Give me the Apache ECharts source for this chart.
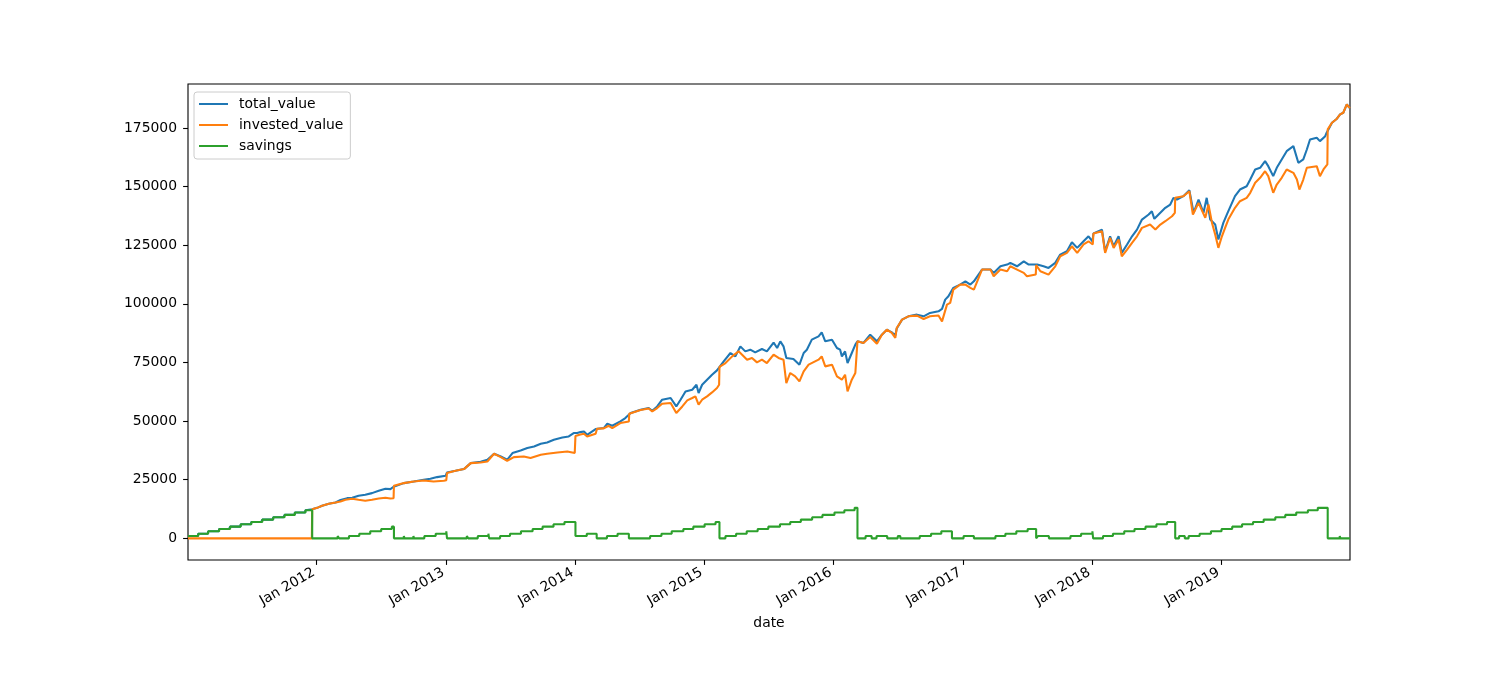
<!DOCTYPE html>
<html>
<head>
<meta charset="utf-8">
<script src="https://cdn.jsdelivr.net/npm/echarts@6/dist/echarts.min.js"></script>
<style>
html,body{margin:0;padding:0;background:#ffffff;}
#chart{width:1500px;height:700px;}
</style>
</head>
<body>
<div id="chart"></div>
<script>
// ---------------- data ----------------
const seriesNames = ['total_value', 'invested_value', 'savings'];
const xAxisName = 'date';

const totalDates = [
'2011-01-03','2011-01-31','2011-02-01','2011-02-28','2011-03-01','2011-03-31','2011-04-01','2011-04-29',
'2011-05-02','2011-05-31','2011-06-01','2011-06-30','2011-07-01','2011-07-29','2011-08-01','2011-08-31',
'2011-09-01','2011-09-30','2011-10-03','2011-10-31','2011-11-01','2011-11-30','2011-12-01','2011-12-20',
'2012-01-03','2012-01-17','2012-02-05','2012-02-24','2012-02-28','2012-03-09','2012-03-28','2012-04-11',
'2012-04-29','2012-05-18','2012-06-06','2012-06-25','2012-07-14','2012-07-28','2012-08-06','2012-09-04',
'2012-10-02','2012-10-30','2012-11-18','2012-12-07','2012-12-31','2013-01-04','2013-01-28','2013-02-21',
'2013-03-12','2013-04-09','2013-04-28','2013-05-17','2013-06-05','2013-06-23','2013-07-08','2013-07-31',
'2013-08-19','2013-09-07','2013-09-26','2013-10-14','2013-11-02','2013-11-26','2013-12-14','2013-12-28',
'2014-01-07','2014-01-16','2014-01-26','2014-02-04','2014-02-28','2014-03-23','2014-04-02','2014-04-16',
'2014-05-09','2014-05-23','2014-06-07','2014-07-05','2014-07-28','2014-08-07','2014-08-21','2014-09-04',
'2014-09-28','2014-10-14','2014-10-26','2014-11-09','2014-11-28','2014-12-10','2014-12-16','2014-12-26',
'2015-01-09','2015-01-23','2015-02-06','2015-02-25','2015-03-16','2015-03-30','2015-04-13','2015-04-27',
'2015-05-11','2015-05-25','2015-06-13','2015-06-27','2015-07-16','2015-07-26','2015-08-04','2015-08-13',
'2015-08-21','2015-09-10','2015-09-27','2015-10-09','2015-10-18','2015-11-01','2015-11-20','2015-11-29',
'2015-12-09','2015-12-28','2016-01-11','2016-01-20','2016-01-25','2016-02-03','2016-02-10','2016-02-22',
'2016-03-03','2016-03-09','2016-03-26','2016-04-14','2016-05-03','2016-05-17','2016-05-31','2016-06-14',
'2016-06-24','2016-06-28','2016-07-13','2016-07-31','2016-08-24','2016-09-12','2016-09-30','2016-10-24',
'2016-11-03','2016-11-12','2016-11-21','2016-12-05','2016-12-24','2017-01-08','2017-01-22','2017-02-01',
'2017-02-24','2017-03-20','2017-03-29','2017-04-17','2017-05-06','2017-05-15','2017-06-03','2017-06-22',
'2017-07-06','2017-07-30','2017-08-17','2017-08-31','2017-09-19','2017-10-03','2017-10-22','2017-11-05',
'2017-11-20','2017-12-08','2017-12-22','2018-01-02','2018-01-05','2018-01-29','2018-02-07','2018-02-21',
'2018-03-03','2018-03-17','2018-03-26','2018-04-10','2018-04-24','2018-05-08','2018-05-22','2018-06-10',
'2018-06-19','2018-06-26','2018-07-08','2018-07-27','2018-08-10','2018-08-19','2018-08-29','2018-09-16',
'2018-10-03','2018-10-15','2018-10-29','2018-11-12','2018-11-21','2018-12-01','2018-12-15','2018-12-24',
'2019-01-07','2019-01-19','2019-02-09','2019-02-23','2019-03-14','2019-03-24','2019-04-07','2019-04-21',
'2019-05-05','2019-05-14','2019-05-28','2019-06-07','2019-06-21','2019-07-05','2019-07-24','2019-08-07',
'2019-08-21','2019-08-31','2019-09-09','2019-09-28','2019-10-07','2019-10-22','2019-10-26','2019-10-31',
'2019-11-10','2019-11-24','2019-12-03','2019-12-12','2019-12-22','2019-12-29','2019-12-31'
];
const totalValues = [
1000,1000,2000,2000,3000,3000,4000,4000,
5000,5000,6000,6000,7000,7000,8000,8000,
9000,9000,10000,10000,11000,11000,12000,12400,
13000,13900,14800,15300,16000,16400,17150,17300,
18140,18570,19290,20270,21130,21000,22000,23560,
24240,24970,25400,26120,26680,28090,28800,29530,
32090,32650,33500,36060,34900,33500,36360,37470,
38500,39180,40330,40900,42040,43020,43450,44900,
44900,45300,45590,44170,46600,47030,48870,48010,
49860,51300,53430,54840,55570,54420,56250,59110,
59830,56250,59110,62650,63380,65510,61970,65500,
67650,69780,71620,75460,79040,77590,81860,79730,
80450,79300,80750,79730,83500,81180,84000,81860,
76910,76480,74050,79040,80450,84720,86130,87840,
84000,84720,81180,80450,77590,79730,74760,79040,
82580,84000,83310,86850,84000,86850,88990,87840,
86500,89500,93250,94670,95390,94670,96110,96800,
97820,101800,103200,106800,108200,109600,108200,109600,
114600,114600,113190,116000,116730,117450,116000,118130,
116730,116730,116000,115300,117450,121000,122400,126250,
123860,126670,128800,126670,130000,131650,122400,128800,
124540,128800,121700,125300,128800,131650,135930,138070,
139490,136240,138070,140920,142340,145190,144470,145890,
148440,138800,144470,138800,145190,135930,133800,127400,
134520,138800,145890,148740,150150,153000,157280,158000,
160830,158690,154430,158000,161550,165090,167220,160130,
161550,165800,170080,170800,169370,171490,172930,174360,
177210,178920,180750,181460,185000,183600,184000
];

const investedDates = [
'2011-01-03','2011-12-19','2011-12-20','2012-01-03','2012-01-17','2012-02-05','2012-02-24','2012-03-09',
'2012-03-23','2012-04-11','2012-04-29','2012-05-18','2012-06-06','2012-06-25','2012-07-14','2012-07-28',
'2012-08-06','2012-08-07','2012-09-04','2012-10-02','2012-10-30','2012-11-27','2012-12-26','2013-01-02',
'2013-01-04','2013-01-28','2013-02-21','2013-03-12','2013-04-09','2013-04-28','2013-05-17','2013-06-05',
'2013-06-23','2013-07-12','2013-08-09','2013-08-28','2013-09-26','2013-10-14','2013-11-12','2013-12-10',
'2013-12-31','2014-01-02','2014-01-16','2014-01-26','2014-02-04','2014-02-28','2014-03-04','2014-03-23',
'2014-04-06','2014-04-16','2014-05-09','2014-06-02','2014-06-03','2014-07-05','2014-07-28','2014-08-07',
'2014-08-21','2014-09-04','2014-09-28','2014-10-14','2014-10-31','2014-11-14','2014-11-28','2014-12-07',
'2014-12-16','2014-12-26','2015-01-09','2015-01-23','2015-02-06','2015-02-12','2015-02-13','2015-03-02',
'2015-03-21','2015-04-08','2015-04-18','2015-05-02','2015-05-16','2015-05-30','2015-06-13','2015-06-27',
'2015-07-16','2015-07-30','2015-08-13','2015-08-21','2015-09-01','2015-09-15','2015-09-27','2015-10-09',
'2015-10-23','2015-11-20','2015-11-29','2015-12-09','2015-12-28','2016-01-11','2016-01-25','2016-02-03',
'2016-02-10','2016-02-22','2016-03-03','2016-03-08','2016-03-09','2016-03-26','2016-04-14','2016-05-03',
'2016-05-17','2016-05-31','2016-06-14','2016-06-24','2016-06-28','2016-07-13','2016-07-31','2016-08-24',
'2016-09-12','2016-09-30','2016-10-24','2016-11-03','2016-11-17','2016-11-26','2016-12-05','2016-12-24',
'2017-01-08','2017-01-22','2017-02-01','2017-02-24','2017-03-20','2017-03-29','2017-04-17','2017-05-06',
'2017-05-15','2017-06-03','2017-06-22','2017-07-01','2017-07-26','2017-07-27','2017-08-08','2017-08-31',
'2017-09-19','2017-10-03','2017-10-22','2017-11-05','2017-11-20','2017-12-08','2017-12-22','2018-01-03',
'2018-01-05','2018-01-29','2018-02-07','2018-02-21','2018-03-03','2018-03-17','2018-03-26','2018-04-10',
'2018-04-24','2018-05-08','2018-05-22','2018-06-14','2018-06-29','2018-07-13','2018-07-27','2018-08-15',
'2018-08-23','2018-08-24','2018-09-16','2018-10-03','2018-10-13','2018-10-29','2018-11-17','2018-11-26',
'2018-12-06','2018-12-15','2018-12-24','2019-01-03','2019-01-12','2019-01-21','2019-02-09','2019-02-23',
'2019-03-14','2019-03-24','2019-04-07','2019-04-21','2019-05-05','2019-05-14','2019-05-28','2019-06-07',
'2019-06-21','2019-07-05','2019-07-24','2019-08-03','2019-08-10','2019-08-21','2019-08-31','2019-09-28',
'2019-10-07','2019-10-17','2019-10-28','2019-10-29','2019-11-10','2019-11-24','2019-12-03','2019-12-12',
'2019-12-22','2019-12-29','2019-12-31'
];
const investedValues = [
0,0,12400,13000,13870,14720,15280,15700,
16430,16860,16430,16000,16430,17000,17290,16990,
17100,22400,23560,24240,24670,24240,24540,24800,
27900,28800,29530,32090,32350,32780,36060,34650,
33080,34650,34910,34230,35640,36060,36620,37050,
36400,43600,44300,44600,43450,44600,46700,46900,
48010,47030,49160,49860,53140,54700,55400,54120,
55570,57400,57700,53430,56250,58820,59830,60520,
56980,59110,60520,62230,64110,65510,73070,74760,
77590,79730,78310,76180,76910,75030,76180,74760,
78310,76910,76180,66240,70510,69060,66930,71190,
74050,76180,77590,73330,74050,69060,67650,69780,
62650,67650,70510,71000,84000,83310,85850,83000,
86850,88990,87580,85440,89700,93250,94670,94960,
93550,94670,95000,92530,99650,100400,106060,108200,
108200,106800,106060,114600,114600,111740,114600,113900,
116000,114600,113190,111740,112500,116500,113900,112460,
116000,120270,121700,124540,121700,125300,126670,125300,
130000,130940,121700,128100,123860,127400,120270,123130,
126000,128800,132370,133800,131650,133800,135220,137350,
138800,145190,145890,148020,138070,143060,136660,142340,
134520,129530,123860,128800,132370,135930,140920,143750,
145190,147330,151600,153730,156550,154430,147330,150870,
153730,157280,155860,153000,148740,153000,158000,158690,
154430,157280,159420,174360,177210,178920,180750,181460,
185000,183600,184000
];

const savingsDates = [
'2011-01-03','2011-02-01','2011-03-01','2011-04-01','2011-05-02','2011-06-01','2011-07-01','2011-08-01',
'2011-09-01','2011-10-03','2011-11-01','2011-12-01','2011-12-20','2012-03-01','2012-03-05','2012-04-02',
'2012-05-01','2012-06-01','2012-07-02','2012-08-01','2012-08-07','2012-09-04','2012-09-06','2012-10-01',
'2012-10-03','2012-11-01','2012-12-03','2013-01-02','2013-01-04','2013-03-01','2013-03-05','2013-04-01',
'2013-05-01','2013-05-03','2013-06-03','2013-07-01','2013-08-01','2013-09-03','2013-10-01','2013-11-01',
'2013-12-02','2014-01-02','2014-02-03','2014-03-03','2014-04-01','2014-05-01','2014-06-02','2014-08-01',
'2014-09-02','2014-10-01','2014-11-03','2014-12-01','2015-01-02','2015-02-02','2015-02-13','2015-03-02',
'2015-04-01','2015-05-01','2015-06-01','2015-07-01','2015-08-03','2015-09-01','2015-10-01','2015-11-02',
'2015-12-01','2016-01-04','2016-02-01','2016-03-01','2016-03-09','2016-04-01','2016-04-18','2016-05-02',
'2016-06-01','2016-07-01','2016-07-08','2016-09-01','2016-10-03','2016-11-01','2016-12-01','2017-01-03',
'2017-02-01','2017-04-03','2017-05-01','2017-06-01','2017-07-03','2017-07-27','2017-08-01','2017-09-01',
'2017-11-01','2017-12-01','2018-01-02','2018-01-04','2018-02-01','2018-03-01','2018-04-02','2018-05-01',
'2018-06-01','2018-07-02','2018-08-01','2018-08-24','2018-09-04','2018-09-20','2018-10-01','2018-11-01',
'2018-12-03','2019-01-02','2019-02-01','2019-03-01','2019-04-01','2019-05-01','2019-06-03','2019-07-01',
'2019-08-01','2019-09-03','2019-10-01','2019-10-29','2019-12-02','2019-12-04','2019-12-31'
];
const savingsValues = [
1000,2000,3000,4000,5000,6000,7000,8000,
9000,10000,11000,12000,0,1000,0,1000,
2000,3000,4000,5000,0,1000,0,1000,
0,1000,2000,3000,0,1000,0,1000,
2000,0,1000,2000,3000,4000,5000,6000,
7000,1000,2000,0,1000,2000,0,1000,
2000,3000,4000,5000,6000,7000,0,1000,
2000,3000,4000,5000,6000,7000,8000,9000,
10000,11000,12000,13000,0,1000,0,1000,
0,1000,0,1000,2000,3000,0,1000,
0,1000,2000,3000,4000,0,1000,0,
1000,2000,3000,0,1000,2000,3000,4000,
5000,6000,7000,0,1000,0,1000,2000,
3000,4000,5000,6000,7000,8000,9000,10000,
11000,12000,13000,0,1000,0,0
];

const xTickDates = ['2012-01-01','2013-01-01','2014-01-01','2015-01-01','2016-01-01','2017-01-01','2018-01-01','2019-01-01'];
const xTickLabels = ['Jan 2012','Jan 2013','Jan 2014','Jan 2015','Jan 2016','Jan 2017','Jan 2018','Jan 2019'];
const yTicks = [0, 25000, 50000, 75000, 100000, 125000, 150000, 175000];
const xRange = ['2011-01-03', '2019-12-31'];
const yRange = [-9225, 193725];

// ---------------- chart ----------------
const colors = ['#1f77b4', '#ff7f0e', '#2ca02c'];
const FONT = 'DejaVu Sans';
const LW = 2.08; // 1.5pt at 100 dpi
function toTs(s) { const p = s.split('-').map(Number); return Date.UTC(p[0], p[1] - 1, p[2]); }
function pairs(d, v) { return d.map((x, i) => [toTs(x), v[i]]); }
const xTickTs = xTickDates.map(toTs);
const labelFor = {};
xTickTs.forEach((t, i) => { labelFor[t] = xTickLabels[i]; });

const chart = echarts.init(document.getElementById('chart'), null, { renderer: 'canvas' });
const lineSeries = (name, data, color, extra) => Object.assign({
  name: name, type: 'line', data: data, showSymbol: false, symbol: 'none',
  lineStyle: { color: color, width: LW }, itemStyle: { color: color },
  animation: false, clip: true, emphasis: { disabled: true }
}, extra || {});

chart.setOption({
  animation: false,
  backgroundColor: '#ffffff',
  textStyle: { fontFamily: FONT },
  grid: { left: 188, right: 150, top: 84, bottom: 140, show: true, borderColor: '#000000', borderWidth: 1.1, backgroundColor: 'transparent', containLabel: false },
  legend: {
    orient: 'vertical', left: 194, top: 92,
    padding: [4, 7, 5, 5], itemGap: 5, itemWidth: 29, itemHeight: 2,
    icon: 'rect',
    backgroundColor: 'rgba(255,255,255,0.8)', borderColor: '#cccccc', borderWidth: 1, borderRadius: 3,
    textStyle: { fontFamily: FONT, fontSize: 13.9, color: '#000000', lineHeight: 16, padding: [0, 0, 0, 6] },
    data: seriesNames.map((n, i) => ({ name: n, itemStyle: { color: colors[i] } }))
  },
  xAxis: {
    type: 'value', min: toTs(xRange[0]), max: toTs(xRange[1]),
    name: xAxisName, nameLocation: 'middle', nameGap: 56,
    nameTextStyle: { fontFamily: FONT, fontSize: 13.9, color: '#000000' },
    axisLine: { show: false, onZero: false },
    axisTick: { show: true, inside: false, length: 4.9, lineStyle: { color: '#000000', width: 1.1 }, customValues: xTickTs },
    axisLabel: { show: true, rotate: 30, margin: 10, fontFamily: FONT, fontSize: 13.9, color: '#000000',
      padding: [0, 3, 0, 0],
      customValues: xTickTs, formatter: v => labelFor[v] || '', hideOverlap: false },
    splitLine: { show: false }
  },
  yAxis: {
    type: 'value', min: yRange[0], max: yRange[1],
    axisLine: { show: false, onZero: false },
    axisTick: { show: true, inside: false, length: 4.9, lineStyle: { color: '#000000', width: 1.1 }, customValues: yTicks },
    axisLabel: { show: true, margin: 11, fontFamily: FONT, fontSize: 13.9, color: '#000000',
      customValues: yTicks, formatter: v => String(v) },
    splitLine: { show: false }
  },
  series: [
    lineSeries(seriesNames[0], pairs(totalDates, totalValues), colors[0]),
    lineSeries(seriesNames[1], pairs(investedDates, investedValues), colors[1]),
    lineSeries(seriesNames[2], pairs(savingsDates, savingsValues), colors[2], { step: 'end' })
  ]
});
</script>
</body>
</html>
